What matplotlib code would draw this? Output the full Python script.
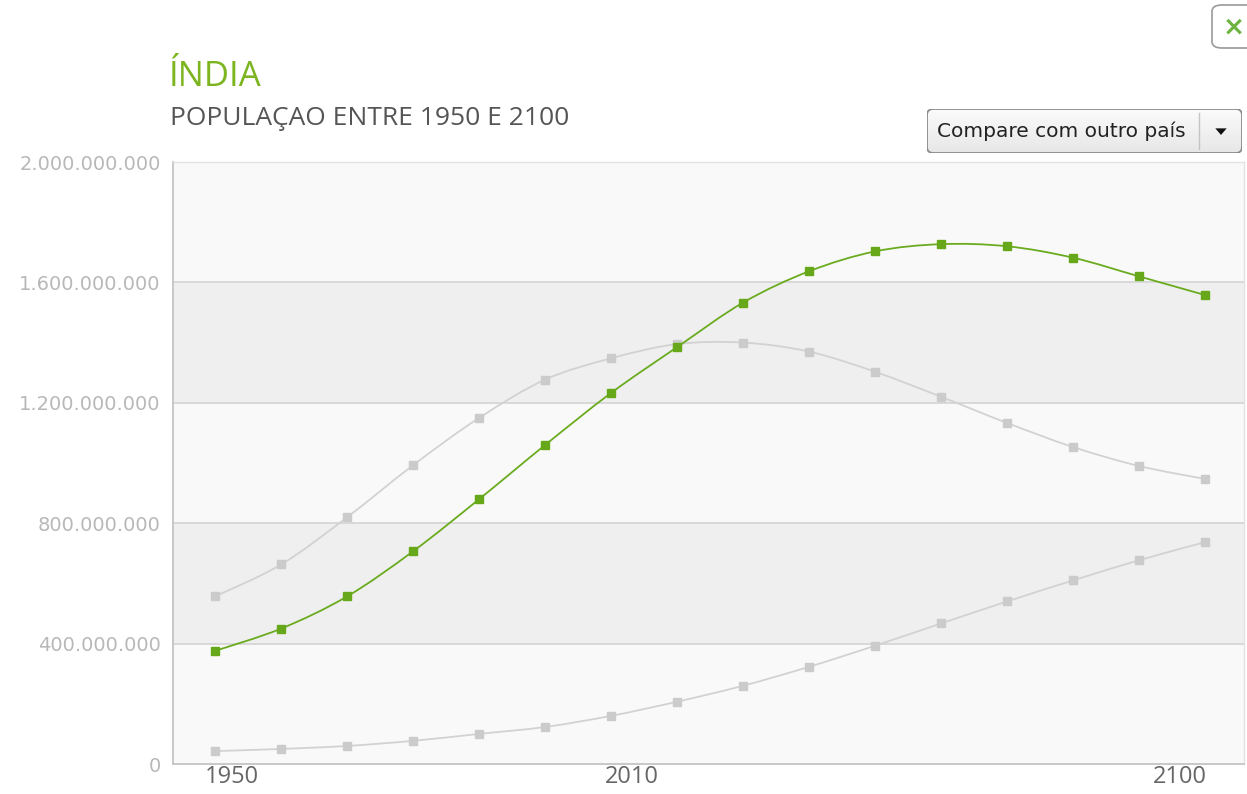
import matplotlib
matplotlib.use("Agg")
import matplotlib.pyplot as plt
import numpy as np
from matplotlib.path import Path
from matplotlib.patches import PathPatch, FancyBboxPatch, Polygon
import matplotlib.transforms as mtransforms

# ---------------- data ----------------
years = [1950, 1960, 1970, 1980, 1990, 2000, 2010, 2020, 2030, 2040,
         2050, 2060, 2070, 2080, 2090, 2100]
india = [376, 450, 557, 707, 880, 1060, 1233, 1385, 1533, 1637,
         1703, 1727, 1720, 1682, 1620, 1558]          # millions
china = [557, 663, 820, 993, 1150, 1277, 1348, 1395, 1400, 1370,
         1303, 1220, 1133, 1053, 990, 947]            # millions
nigeria = [43, 50, 60, 77, 100, 123, 160, 207, 260, 323,
           393, 467, 540, 610, 677, 737]              # millions
ytick_vals = [0, 400, 800, 1200, 1600, 2000]
ytick_labels = ["0", "400.000.000", "800.000.000", "1.200.000.000",
                "1.600.000.000", "2.000.000.000"]
xtick_vals = [1950, 2010, 2100]
xtick_labels = ["1950", "2010", "2100"]
title = "ÍNDIA"
subtitle = "POPULAÇAO ENTRE 1950 E 2100"
button_text = "Compare com outro país"

W, H = 1247, 794
fig = plt.figure(figsize=(W / 100, H / 100), dpi=100)
fig.patch.set_facecolor("white")


def fx(x):
    return x / W


def fy(y):
    return 1 - y / H


ax = fig.add_axes([fx(173), fy(764), (1244 - 173) / W, (764 - 162) / H])
ax.set_xlim(1943.6, 2105.9)
ax.set_ylim(0, 2000)
ax.set_facecolor("#f9f9f9")

# alternating bands
for i in range(len(ytick_vals) - 1):
    if i % 2 == 1:
        ax.axhspan(ytick_vals[i], ytick_vals[i + 1], color="#efefef", zorder=0, lw=0)
for v in ytick_vals[1:-1]:
    ax.axhline(v, color="#d6d6d6", lw=1.3, zorder=1)

for side in ["top", "right"]:
    ax.spines[side].set_color("#e2e2e2")
    ax.spines[side].set_linewidth(1.0)
for side in ["left", "bottom"]:
    ax.spines[side].set_color("#c4c4c4")
    ax.spines[side].set_linewidth(1.3)

ax.set_yticks(ytick_vals)
ax.set_yticklabels(ytick_labels, fontsize=14, color="#b8b8b8",
                   family="DejaVu Sans")
ax.tick_params(axis="y", length=0, pad=9)
ax.set_xticks(xtick_vals)
ax.set_xticklabels(xtick_labels, fontsize=17, color="#666666",
                   family="Open Sans")
ax.tick_params(axis="x", length=0, pad=1)
shifts = [17, 21, -25]
for lab, s in zip(ax.get_xticklabels(), shifts):
    lab.set_transform(lab.get_transform() +
                      mtransforms.ScaledTranslation(s / 100, 0, fig.dpi_scale_trans))


def smooth_path(xs, ys):
    verts = [(xs[0], ys[0])]
    codes = [Path.MOVETO]
    n = len(xs)
    for i in range(n - 1):
        x0, y0 = (xs[i - 1], ys[i - 1]) if i > 0 else (xs[i], ys[i])
        x1, y1 = xs[i], ys[i]
        x2, y2 = xs[i + 1], ys[i + 1]
        x3, y3 = (xs[i + 2], ys[i + 2]) if i + 2 < n else (x2, y2)
        c1 = (x1 + (x2 - x0) / 6, y1 + (y2 - y0) / 6)
        c2 = (x2 - (x3 - x1) / 6, y2 - (y3 - y1) / 6)
        verts += [c1, c2, (x2, y2)]
        codes += [Path.CURVE4] * 3
    return Path(verts, codes)


def draw_series(vals, color, mcolor, z):
    ax.add_patch(PathPatch(smooth_path(years, vals), fill=False,
                           edgecolor=color, lw=1.3, zorder=z))
    ax.plot(years, vals, ls="none", marker="s", ms=5.5, mfc=mcolor,
            mec=mcolor, zorder=z + 0.5)


draw_series(nigeria, "#d2d2d2", "#cbcbcb", 3)
draw_series(china, "#d2d2d2", "#cbcbcb", 3)
draw_series(india, "#6aab1f", "#67a81b", 5)

# titles
fig.text(fx(169), fy(86), title, fontsize=25, color="#7cb51f",
         family="Open Sans", ha="left", va="baseline")
fig.text(fx(170), fy(125), subtitle, fontsize=19, color="#555555",
         family="Open Sans", ha="left", va="baseline")

# compare button with gradient
bx0, by0, bx1, by1 = 927, 109, 1242, 153
bax = fig.add_axes([fx(bx0), fy(by1), (bx1 - bx0) / W, (by1 - by0) / H])
bax.set_axis_off()
bax.set_xlim(0, 1)
bax.set_ylim(0, 1)
grad = np.linspace(0.985, 0.905, 64).reshape(-1, 1)
im = bax.imshow(np.dstack([grad, grad, grad]), extent=(0, 1, 0, 1),
                aspect="auto", origin="upper", zorder=1)
clip = FancyBboxPatch((0, 0), 1, 1, boxstyle="round,pad=0,rounding_size=0.02",
                      transform=bax.transAxes, facecolor="none",
                      edgecolor="#8c8c8c", lw=1.3, zorder=3, mutation_aspect=7)
bax.add_patch(clip)
im.set_clip_path(clip)
bax.plot([(1199 - bx0) / (bx1 - bx0)] * 2, [0.1, 0.9], color="#c4c4c4", lw=1,
         zorder=4)
bax.text((937 - bx0) / (bx1 - bx0), 0.5, button_text, fontsize=14.5,
         color="#222222", family="DejaVu Sans", ha="left", va="center", zorder=5)
tx = (1221 - bx0) / (bx1 - bx0)
bax.add_patch(Polygon([(tx - 0.018, 0.56), (tx + 0.018, 0.56), (tx, 0.41)],
                      closed=True, facecolor="#111111", edgecolor="none", zorder=5))

# close button (partially cut off)
cb = FancyBboxPatch((fx(1212), fy(48)), 60 / W, 43 / H,
                    boxstyle="round,pad=0,rounding_size=0.008",
                    transform=fig.transFigure, facecolor="white",
                    edgecolor="#9a9a9a", lw=1.2, zorder=10)
fig.add_artist(cb)
fig.text(fx(1234), fy(28), "×", fontsize=19, fontweight="bold",
         color="#6db33f", family="DejaVu Sans", ha="center", va="center", zorder=12)

fig.savefig("out.png", dpi=100, facecolor="white")
